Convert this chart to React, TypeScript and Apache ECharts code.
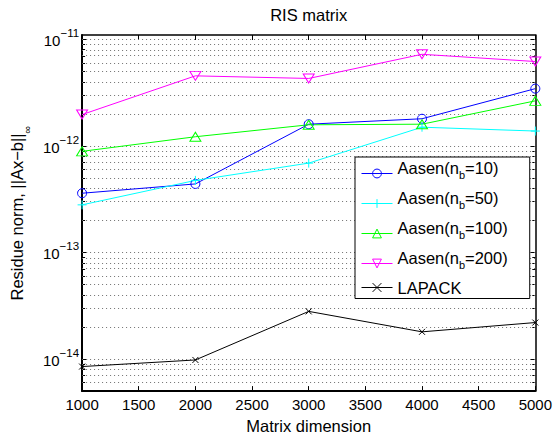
import React, { useEffect, useRef } from 'react';
import * as echarts from 'echarts';

// ---- data ----
const matrixDims = [1000, 2000, 3000, 4000, 5000];
const aasenNb10 = [3.6e-13, 4.4e-13, 1.6e-12, 1.8e-12, 3.45e-12];
const aasenNb50 = [2.8e-13, 4.75e-13, 6.9e-13, 1.5e-12, 1.38e-12];
const aasenNb100 = [8.9e-13, 1.22e-12, 1.58e-12, 1.6e-12, 2.65e-12];
const aasenNb200 = [1.97e-12, 4.55e-12, 4.3e-12, 7.25e-12, 6.2e-12];
const lapack = [8.5e-15, 9.8e-15, 2.8e-14, 1.8e-14, 2.2e-14];
const seriesNames = ['Aasen(nb=10)', 'Aasen(nb=50)', 'Aasen(nb=100)', 'Aasen(nb=200)', 'LAPACK'];
const yDecades = [-14, -13, -12, -11];
const yMinValue = 5e-15;
const yMaxValue = 1.1e-11;
const xMin = 1000;
const xMax = 5000;
const xStep = 500;

const FONT = '"Liberation Sans", Arial, Helvetica, sans-serif';

const yMin = Math.log10(yMinValue);
const yMax = Math.log10(yMaxValue);

const minorPositions: number[] = [];
const gridPositions: number[] = [];
for (let d = -15; d <= -11; d++) {
  for (let k = 1; k <= 9; k++) {
    const v = d + Math.log10(k);
    if (v > yMin + 1e-6 && v < yMax - 1e-6) {
      gridPositions.push(v);
      if (k > 1) minorPositions.push(v);
    }
  }
}

const legendLabel = (name: string) => {
  const m = name.match(/^Aasen\(nb=(\d+)\)$/);
  if (m) return `{m|Aasen(n}{s|b}{m|=${m[1]})}`;
  return `{l|${name}}`;
};

export default function App() {
  const ref = useRef<HTMLDivElement>(null);
  useEffect(() => {
    if (!ref.current) return;
    const chart = echarts.init(ref.current, undefined, { renderer: 'svg' });

    const mk = (name: string, vals: number[], color: string, symbol: string, size: any, rotate = 0) => ({
      name,
      type: 'line',
      xAxisIndex: 0,
      yAxisIndex: 0,
      data: matrixDims.map((x, i) => [x, Math.log10(vals[i])]),
      symbol,
      symbolSize: size,
      symbolRotate: rotate,
      showSymbol: true,
      lineStyle: { color, width: 1 },
      itemStyle: { color: 'rgba(0,0,0,0)', borderColor: color, borderWidth: 1 },
      emphasis: { disabled: true },
      z: 3,
    });

    const series: any[] = [
      mk(seriesNames[0], aasenNb10, '#0000ff', 'circle', 9),
      mk(seriesNames[1], aasenNb50, '#00ffff', 'path://M5,0L5,10M0,5L10,5', 9),
      mk(seriesNames[2], aasenNb100, '#00ff00', 'triangle', [11, 9]),
      mk(seriesNames[3], aasenNb200, '#ff00ff', 'triangle', [11, 9], 180),
      mk(seriesNames[4], lapack, '#000000', 'path://M0,0L10,10M10,0L0,10', 6),
    ];
    series[0].markLine = {
      silent: true,
      symbol: ['none', 'none'],
      label: { show: false },
      lineStyle: { color: '#707070', width: 1, type: [1, 3] },
      emphasis: { disabled: true },
      data: gridPositions.map((v) => ({ yAxis: v })),
      z: 1,
    };

    const baseY = {
      type: 'value',
      min: yMin,
      max: yMax,
      splitLine: { show: false },
      axisLine: { show: false, onZero: false },
      axisLabel: { show: false },
    };

    const option: any = {
      animation: false,
      backgroundColor: '#ffffff',
      textStyle: { fontFamily: FONT },
      grid: { left: 80, right: 19, top: 35, bottom: 45, containLabel: false },
      legend: {
        orient: 'vertical',
        left: 355,
        top: 157,
        backgroundColor: '#ffffff',
        borderColor: '#000000',
        borderWidth: 1,
        borderRadius: 0,
        padding: [2, 22, 2.5, 6],
        itemGap: 1,
        itemWidth: 31,
        itemHeight: 11,
        selectedMode: false,
        data: seriesNames,
        formatter: legendLabel,
        itemStyle: { borderWidth: 1 },
        lineStyle: { width: 1 },
        textStyle: {
          color: '#000',
          fontFamily: FONT,
          fontSize: 16.5,
          rich: {
            m: { fontSize: 16.5, fontFamily: FONT, color: '#000', lineHeight: 28.5, padding: [0, 0, 12, 0] },
            s: { fontSize: 11, fontFamily: FONT, color: '#000', lineHeight: 28.5, padding: [2, 0, 0, 0] },
            l: { fontSize: 16.5, fontFamily: FONT, color: '#000', lineHeight: 23 },
          },
        },
      },
      xAxis: [
        {
          type: 'value',
          position: 'bottom',
          min: xMin,
          max: xMax,
          interval: xStep,
          name: 'Matrix dimension',
          nameLocation: 'middle',
          nameGap: 23,
          nameTextStyle: { fontSize: 16.5, color: '#000', fontFamily: FONT },
          axisLine: { show: true, onZero: false, lineStyle: { color: '#000', width: 2 } },
          axisTick: { show: true, inside: true, length: 5, lineStyle: { color: '#000', width: 1 } },
          axisLabel: { color: '#000', fontSize: 15, fontFamily: FONT, margin: 6, formatter: (v: number) => String(v) },
          splitLine: { show: false },
        },
        {
          type: 'value',
          position: 'top',
          min: xMin,
          max: xMax,
          interval: xStep,
          name: 'RIS matrix',
          nameLocation: 'middle',
          nameGap: 12,
          nameTextStyle: { fontSize: 16.5, color: '#000', fontFamily: FONT },
          axisLine: { show: true, onZero: false, lineStyle: { color: '#000', width: 1.5 } },
          axisTick: { show: true, inside: true, length: 5, lineStyle: { color: '#000', width: 1 } },
          axisLabel: { show: false },
          splitLine: { show: false },
        },
      ],
      yAxis: [
        {
          ...baseY,
          position: 'left',
          name: 'Residue norm, ||Ax−b||{sub|∞}',
          nameLocation: 'middle',
          nameRotate: 90,
          nameGap: 47,
          nameTextStyle: {
            fontSize: 16.5,
            color: '#000',
            fontFamily: FONT,
            rich: { sub: { fontSize: 11, fontFamily: FONT, color: '#000', padding: [20, 0, 0, 0] } },
          },
          axisLine: { show: true, onZero: false, lineStyle: { color: '#000', width: 2 } },
          axisTick: { show: true, inside: true, length: 5, customValues: yDecades, lineStyle: { color: '#000', width: 1 } },
          axisLabel: {
            show: true,
            customValues: yDecades,
            margin: 3,
            formatter: (v: number) => `{b|10}{s|−${Math.abs(Math.round(v))}}`,
            rich: {
              b: { fontSize: 15, fontFamily: FONT, color: '#000', padding: [2.6, 0, 0, 0] },
              s: { fontSize: 11.5, fontFamily: FONT, color: '#000', padding: [0, 0, 12.8, 0] },
            },
          },
        },
        {
          ...baseY,
          position: 'left',
          axisTick: { show: true, inside: true, length: 3, customValues: minorPositions, lineStyle: { color: '#000', width: 1 } },
        },
        {
          ...baseY,
          position: 'right',
          axisLine: { show: true, onZero: false, lineStyle: { color: '#000', width: 1.5 } },
          axisTick: { show: true, inside: true, length: 5, customValues: yDecades, lineStyle: { color: '#000', width: 1 } },
        },
        {
          ...baseY,
          position: 'right',
          axisTick: { show: true, inside: true, length: 3, customValues: minorPositions, lineStyle: { color: '#000', width: 1 } },
        },
      ],
      series,
    };

    chart.setOption(option);
    return () => chart.dispose();
  }, []);

  return (
    <div
      ref={ref}
      style={{ position: 'absolute', left: 0, top: 0, width: 555, height: 439, background: '#fff' }}
    />
  );
}
